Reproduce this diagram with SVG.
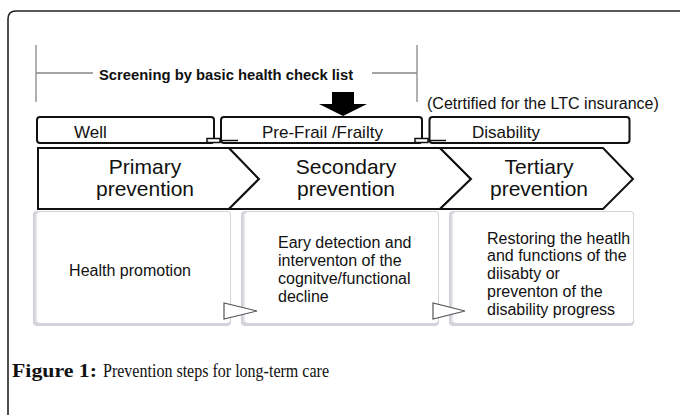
<svg xmlns="http://www.w3.org/2000/svg" width="680" height="415" viewBox="0 0 680 415">
<style>
.sans{font-family:"Liberation Sans",Arial,sans-serif;fill:#111}
.box{fill:#fff;stroke:#111;stroke-width:2}
.chev{fill:#fff;stroke:#111;stroke-width:2;stroke-linejoin:miter}
.gray{stroke:#888;stroke-width:1.3;fill:none}
.tri{fill:#fff;stroke:#555;stroke-width:1.2}
.big{font-size:21px}
.mid{font-size:17px}
.sm{font-size:16px}
.shadow{fill:#d3d4db}
.face{fill:#fff}
</style>
<defs>
<linearGradient id="shL" x1="0" y1="0" x2="1" y2="0">
<stop offset="0" stop-color="#c9cad2"/>
<stop offset="1" stop-color="#f4f4f7"/>
</linearGradient>
</defs>
<rect width="680" height="415" fill="#fff"/>
<path d="M8,415 V19 Q8,11 16,11 H680" fill="none" stroke="#222" stroke-width="1.6"/>

<g id="screening">
<path class="gray" d="M36,45 V102 M36,73 H93 M372,73 H417 M417,45 V102"/>
<text class="sans" x="99" y="80" font-size="14.8" font-weight="bold">Screening by basic health check list</text>
</g>
<g id="arrow">
<polygon points="332,92 354,92 354,104 367,104 343,116 319,104 332,104" fill="#000"/>
</g>
<g id="certified">
<text class="sans" x="427" y="109" font-size="16">(Cetrtified for the LTC insurance)</text>
</g>

<g id="well">
<rect class="box" x="37" y="117" width="177" height="26" rx="3"/>
<text class="sans mid" x="74" y="138">Well</text>
</g>
<g id="prefrail">
<rect class="box" x="221" y="117" width="201" height="26" rx="3"/>
<text class="sans mid" x="262" y="138">Pre-Frail /Frailty</text>
</g>
<g id="disability">
<rect class="box" x="429.5" y="117" width="200" height="26" rx="3"/>
<text class="sans mid" x="472" y="138">Disability</text>
</g>

<g id="primary">
<polygon class="chev" points="38,148 229,148 259,179 229,209 38,209"/>
<text class="sans big" x="145" y="174" text-anchor="middle">Primary</text>
<text class="sans big" x="145" y="196" text-anchor="middle">prevention</text>
</g>
<g id="secondary">
<polygon class="chev" points="229,148 440,148 471,179 440,209 229,209 259,179"/>
<text class="sans big" x="346" y="174" text-anchor="middle">Secondary</text>
<text class="sans big" x="346" y="196" text-anchor="middle">prevention</text>
</g>
<g id="tertiary">
<polygon class="chev" points="440,148 603,148 633,179 603,209 440,209 471,179"/>
<text class="sans big" x="539" y="174" text-anchor="middle">Tertiary</text>
<text class="sans big" x="539" y="196" text-anchor="middle">prevention</text>
</g>

<g id="panel1">
<rect class="shadow" x="33" y="211" width="198" height="115" rx="4"/>
<rect class="face" x="37" y="212" width="193" height="111" rx="3"/>
<rect x="33.5" y="214" width="4" height="108" fill="url(#shL)"/>
<text class="sans sm" x="130" y="276" text-anchor="middle">Health promotion</text>
</g>
<g id="panel2">
<rect class="shadow" x="241" y="211" width="198" height="115" rx="4"/>
<rect class="face" x="245" y="212" width="193" height="111" rx="3"/>
<rect x="241.5" y="214" width="4" height="108" fill="url(#shL)"/>
<text class="sans sm" x="278" y="248">Eary detection and</text>
<text class="sans sm" x="278" y="266">interventon of the</text>
<text class="sans sm" x="278" y="284">cognitve/functional</text>
<text class="sans sm" x="278" y="302">decline</text>
</g>
<g id="panel3">
<rect class="shadow" x="449" y="211" width="185" height="115" rx="4"/>
<rect class="face" x="453" y="212" width="180" height="111" rx="3"/>
<rect x="449.5" y="214" width="4" height="108" fill="url(#shL)"/>
<text class="sans sm" x="487" y="243.5">Restoring the heatlh</text>
<text class="sans sm" x="487" y="261.2">and functions of the</text>
<text class="sans sm" x="487" y="279">diisabty or</text>
<text class="sans sm" x="487" y="296.8">preventon of the</text>
<text class="sans sm" x="487" y="314.5">disability progress</text>
</g>

<g id="connectors">
<path d="M207,138.5 H220 V142.5 H207 Z" fill="#fff" stroke="#111" stroke-width="1.5"/>
<path d="M220,140.5 H238" stroke="#111" stroke-width="1.5"/>
<path d="M415,138.5 H428 V142.5 H415 Z" fill="#fff" stroke="#111" stroke-width="1.5"/>
<path d="M428,140.5 H446" stroke="#111" stroke-width="1.5"/>
<polygon class="tri" points="224,303 224,319 257,311"/>
<polygon class="tri" points="433,303 433,319 465,311"/>
</g>

<g id="caption">
<text x="12" y="377" font-family="'Liberation Serif','Times New Roman',serif" font-size="19" font-weight="bold" fill="#111" textLength="85" lengthAdjust="spacingAndGlyphs">Figure 1:</text>
<text x="103" y="377" font-family="'Liberation Serif','Times New Roman',serif" font-size="18.5" fill="#111" textLength="226" lengthAdjust="spacingAndGlyphs">Prevention steps for long-term care</text>
</g>
</svg>
